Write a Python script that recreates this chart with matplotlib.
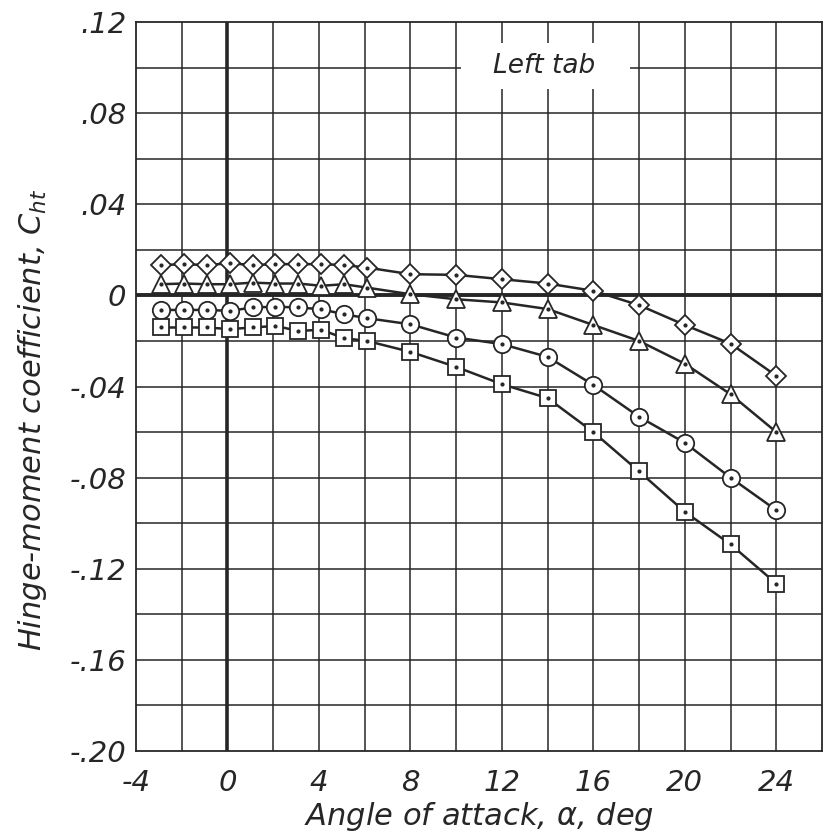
import matplotlib
matplotlib.use("Agg")
import matplotlib.pyplot as plt
from matplotlib.patches import Rectangle
import numpy as np

# ---- data ----
alpha = [-2.9, -1.9, -0.9, 0.1, 1.1, 2.1, 3.1, 4.1, 5.1, 6.1,
         8, 10, 12, 14, 16, 18, 20, 22, 24]
ch_diamond = [0.0133, 0.0137, 0.0133, 0.0141, 0.0133, 0.0137, 0.0137, 0.0137, 0.0133, 0.0122,
              0.0093, 0.0090, 0.0071, 0.0052, 0.0020, -0.0043, -0.0130, -0.0212, -0.0353]
ch_triangle = [0.0049, 0.0052, 0.0049, 0.0049, 0.0056, 0.0052, 0.0052, 0.0042, 0.0049, 0.0034,
               0.0005, -0.0017, -0.0031, -0.0060, -0.0130, -0.0200, -0.0300, -0.0434, -0.0600]
ch_circle = [-0.0064, -0.0064, -0.0064, -0.0068, -0.0053, -0.0050, -0.0053, -0.0061, -0.0083, -0.0100,
             -0.0127, -0.0185, -0.0214, -0.0270, -0.0393, -0.0533, -0.0647, -0.0800, -0.0943]
ch_square = [-0.0141, -0.0141, -0.0141, -0.0148, -0.0141, -0.0134, -0.0156, -0.0151, -0.0188, -0.0200,
             -0.0248, -0.0314, -0.0390, -0.0451, -0.0600, -0.0773, -0.0950, -0.1093, -0.1265]

xticks = [-4, 0, 4, 8, 12, 16, 20, 24]
xticklabels = ['-4', '0', '4', '8', '12', '16', '20', '24']
yticks = [0.12, 0.08, 0.04, 0.0, -0.04, -0.08, -0.12, -0.16, -0.20]
yticklabels = ['.12', '.08', '.04', '0', '-.04', '-.08', '-.12', '-.16', '-.20']

ink = '#262626'
plt.rcParams['font.family'] = ['DejaVu Sans']
plt.rcParams['mathtext.fontset'] = 'dejavusans'

fig = plt.figure(figsize=(8.26, 8.34), dpi=100, facecolor='white')
ax = fig.add_axes([136/826, 1-751/834, (822-136)/826, (751-22)/834])
ax.set_facecolor('white')
ax.set_xlim(-4, 26)
ax.set_ylim(-0.20, 0.12)

# grid
for gx in np.arange(-2, 26, 2):
    ax.axvline(gx, color=ink, lw=1.1, zorder=1)
for gy in np.arange(-0.18, 0.12, 0.02):
    ax.axhline(gy, color=ink, lw=1.1, zorder=1)
ax.axvline(0, color=ink, lw=2.6, zorder=1.2)
ax.axhline(0, color=ink, lw=2.8, zorder=1.2)
for s in ax.spines.values():
    s.set_color(ink)
    s.set_linewidth(1.3)

# label box
ax.add_patch(Rectangle((10.2, 0.0905), 7.4, 0.0202, facecolor='white', edgecolor='none', zorder=2))
ax.text(13.85, 0.1005, 'Left tab', ha='center', va='center', fontsize=19,
        style='italic', color=ink, zorder=3)

# data
series = [(ch_diamond, 'D', 10.5), (ch_triangle, '^', 12.5),
          (ch_circle, 'o', 12.5), (ch_square, 's', 11)]
for ys, m, ms in series:
    ax.plot(alpha, ys, color=ink, lw=1.8, marker=m, ms=ms, mfc='white',
            mec=ink, mew=1.3, zorder=4)
    ax.plot(alpha, ys, ls='none', marker='o', ms=2, color=ink, zorder=5)

ax.set_xticks(xticks)
ax.set_xticklabels(xticklabels)
ax.set_yticks(yticks)
ax.set_yticklabels(yticklabels)
ax.tick_params(length=0, labelsize=21, colors=ink)
ax.tick_params(axis='y', pad=7)
ax.tick_params(axis='x', pad=13)
for lab in ax.get_xticklabels() + ax.get_yticklabels():
    lab.set_style('italic')

ax.set_xlabel(r'Angle of attack, $\alpha$, deg', fontsize=22, style='italic', color=ink, labelpad=2)
ax.set_ylabel(r'Hinge-moment coefficient, $C_{ht}$', fontsize=22, style='italic', color=ink)
ax.yaxis.set_label_coords(-0.127, 0.455)

fig.savefig('out.png', dpi=100, facecolor='white')
